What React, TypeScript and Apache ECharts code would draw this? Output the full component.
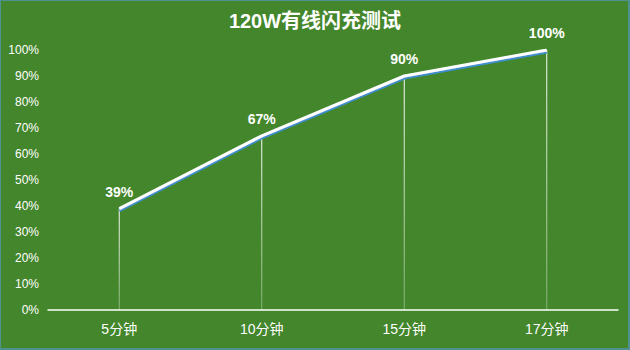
import React, { useEffect, useRef } from "react";
import * as echarts from "echarts";

const categories = ["5分钟", "10分钟", "15分钟", "17分钟"];
const values = [39, 67, 90, 100];
const titleText = "120W有线闪充测试";

export default function App() {
  const ref = useRef<HTMLDivElement>(null);
  useEffect(() => {
    document.body.style.margin = "0";
    const chart = echarts.init(ref.current!, null, { renderer: "svg" });
    const font = "'Liberation Sans', 'Noto Sans CJK SC', sans-serif";
    chart.setOption({
      animation: false,
      backgroundColor: "#43862b",
      title: {
        text: titleText,
        left: "center",
        top: 6,
        textStyle: { color: "#fff", fontSize: 20, fontWeight: "bold", fontFamily: font },
      },
      grid: { left: 48, right: 12, top: 50, bottom: 40 },
      xAxis: {
        type: "category",
        data: categories,
        axisLine: { lineStyle: { color: "#fff", width: 1.5 } },
        axisTick: { show: false },
        axisLabel: { color: "#fff", fontSize: 14, margin: 12, fontFamily: font },
      },
      yAxis: {
        type: "value",
        min: 0,
        max: 100,
        interval: 10,
        axisLine: { show: false },
        axisTick: { show: false },
        splitLine: { show: false },
        axisLabel: { color: "#fff", fontSize: 12, margin: 9, formatter: "{value}%", fontFamily: font },
      },
      series: [
        {
          type: "bar",
          data: values,
          barWidth: 1,
          itemStyle: {
            color: new echarts.graphic.LinearGradient(0, 0, 0, 1, [
              { offset: 0, color: "rgba(255,255,255,1)" },
              { offset: 1, color: "rgba(255,255,255,0.35)" },
            ]),
          },
          label: {
            show: true,
            position: "top",
            distance: 10,
            color: "#fff",
            fontSize: 14,
            fontWeight: "bold",
            fontFamily: font,
            formatter: "{c}%",
          },
          silent: true,
        },
        {
          type: "line",
          data: values,
          symbol: "none",
          lineStyle: {
            color: "#fff",
            width: 3,
            shadowColor: "#3d8fd0",
            shadowOffsetY: 2,
            shadowBlur: 0,
          },
        },
      ],
    });
    return () => chart.dispose();
  }, []);
  return (
    <div style={{ position: "absolute", left: 0, top: 0, width: 630, height: 350 }}>
      <div ref={ref} style={{ width: 630, height: 350 }} />
      <div
        style={{
          position: "absolute",
          left: 0,
          top: 0,
          width: 630,
          height: 350,
          boxSizing: "border-box",
          pointerEvents: "none",
          border: "1px solid #4f9090",
          borderRight: "2px solid #4f9090",
          borderBottom: "2px solid #4f9090",
        }}
      />
    </div>
  );
}
